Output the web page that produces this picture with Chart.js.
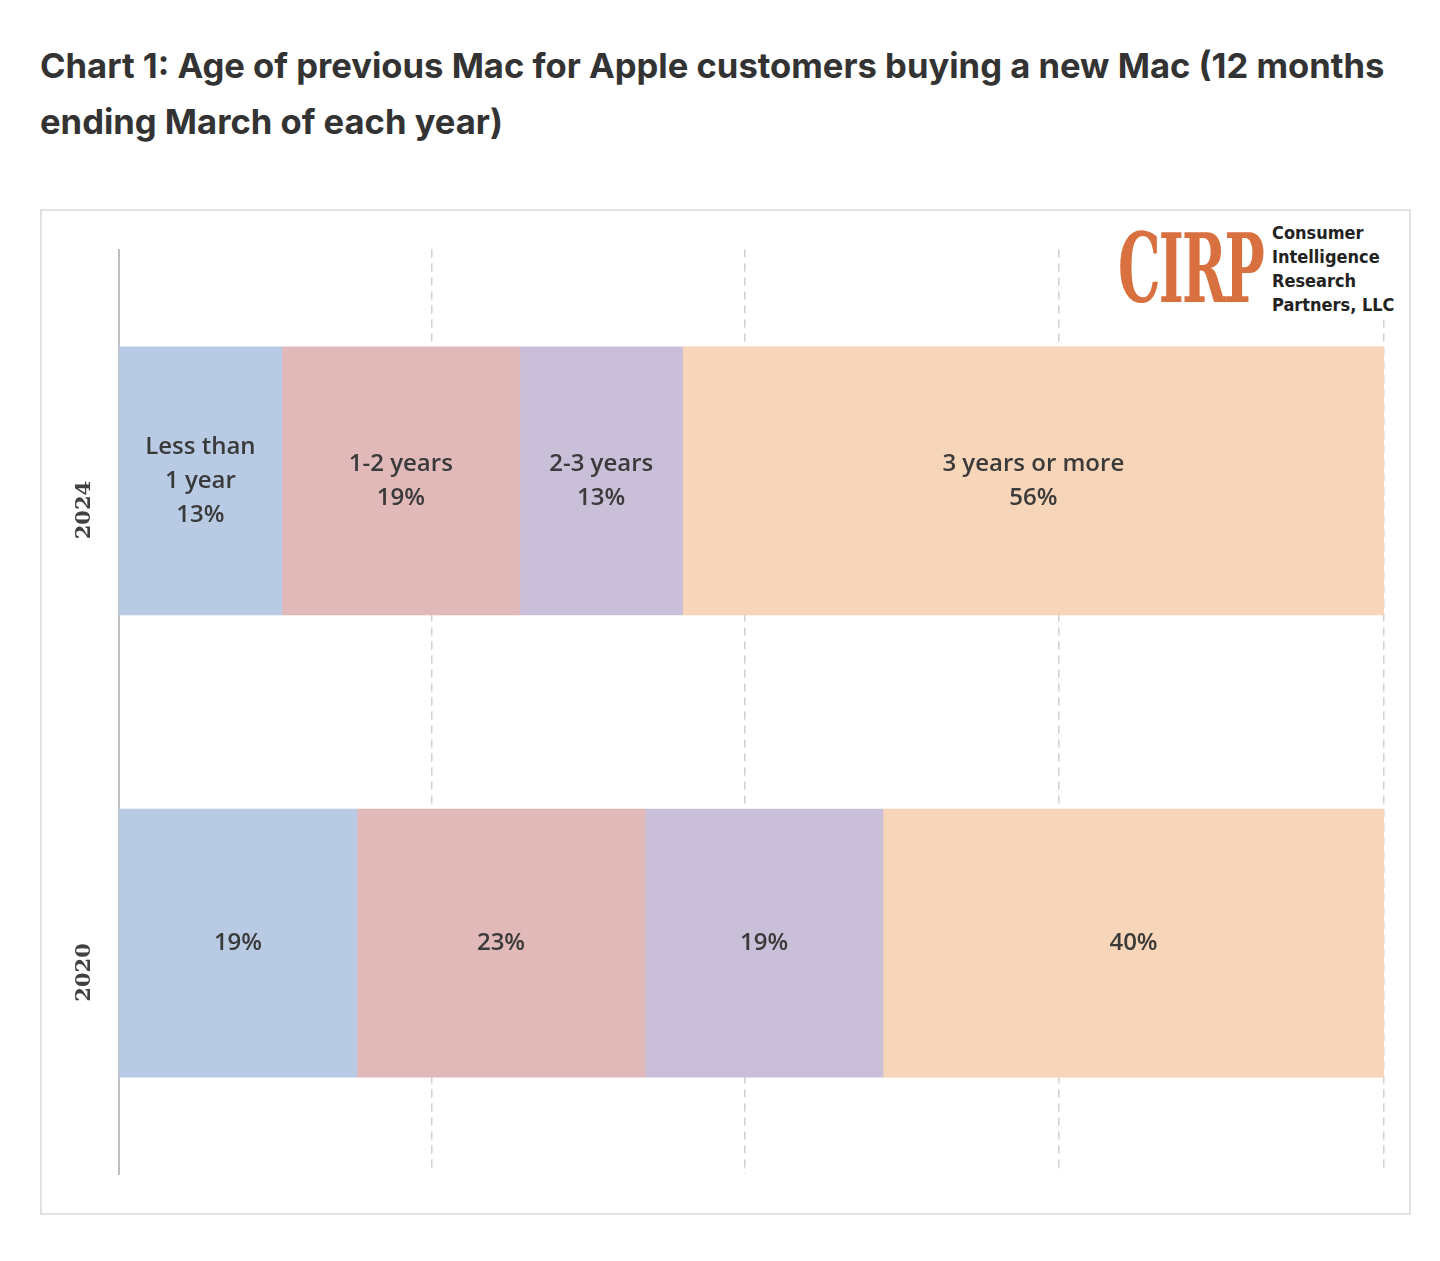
<!DOCTYPE html>
<html>
<head>
<meta charset="utf-8">
<script src="https://cdn.jsdelivr.net/npm/chart.js@4/dist/chart.umd.min.js"></script>
<style>
  body { margin: 0; background: #fff; width: 1440px; height: 1261px; position: relative; font-family: Inter, "Open Sans", sans-serif; }
  h1 { position: absolute; left: 40px; top: 37px; margin: 0; width: 1395px; font-size: 34.6px; line-height: 56px; font-weight: 700; color: #333; }
  #box { position: absolute; left: 40px; top: 209px; width: 1367px; height: 1002px; border: 2px solid #e2e2e2; }
  #logo { position: absolute; left: 1072px; top: 8px; display: flex; align-items: center; background: #fff; padding: 2px 4px; white-space: nowrap; }
  #cirpWrap { width: 148px; height: 92px; overflow: visible; }
  #cirp { font-family: "DejaVu Serif Condensed", "DejaVu Serif", serif; font-weight: 700; font-size: 96px; color: #d9703f; transform: scaleX(0.62); transform-origin: left; letter-spacing: -3px; line-height: 92px; }
  #cirpText { font-family: "DejaVu Sans Condensed", sans-serif; font-weight: 700; font-size: 18px; line-height: 24px; color: #222; margin-left: 6px; }
</style>
</head>
<body>
<h1>Chart 1: Age of previous Mac for Apple customers buying a new Mac (12 months ending March of each year)</h1>
<div id="box">
  <canvas id="chart" width="1367" height="1002"></canvas>
  <div id="logo"><div id="cirpWrap"><div id="cirp">CIRP</div></div><div id="cirpText">Consumer<br>Intelligence<br>Research<br>Partners, LLC</div></div>
</div>
<script>
// Survey years (top to bottom)
const years = ['2024', '2020'];
// Age buckets
const buckets = ['Less than 1 year', '1-2 years', '2-3 years', '3 years or more'];
// Share of buyers per bucket, per year (same order as years)
const lessThan1 = [13, 19];
const oneToTwo = [19, 23];
const twoToThree = [13, 19];
const threePlus = [56, 40];
const bucketColors = ['#b9cbe4', '#e2b9b9', '#cabfd8', '#f7d5b8'];
// Labels written inside the 2024 bar
const topLabels = [['Less than', '1 year'], ['1-2 years'], ['2-3 years'], ['3 years or more']];

const canvas = document.getElementById('chart');
const ctx = canvas.getContext('2d');

// Draw the text inside each bar segment
const barLabels = {
    id: 'barLabels',
    afterDatasetsDraw(chart) {
        const c = chart.ctx;
        c.save();
        c.fillStyle = '#3a3a3a';
        c.font = '600 24px "Open Sans", sans-serif';
        c.textAlign = 'center';
        c.textBaseline = 'middle';
        chart.data.datasets.forEach((ds, i) => {
            chart.getDatasetMeta(i).data.forEach((bar, j) => {
                const lines = j === 0 ? [...topLabels[i], ds.data[j] + '%'] : [ds.data[j] + '%'];
                const cx = (bar.x + bar.base) / 2;
                const lh = 34;
                const y0 = bar.y - (lines.length - 1) * lh / 2;
                lines.forEach((t, k) => c.fillText(t, cx, y0 + k * lh));
            });
        });
        c.restore();
    }
};

const chart = new Chart(ctx, {
    type: 'bar',
    plugins: [barLabels],
    data: {
        labels: years,
        datasets: [lessThan1, oneToTwo, twoToThree, threePlus].map((d, i) => ({
            label: buckets[i],
            data: d,
            backgroundColor: bucketColors[i],
            barThickness: 268,
        })),
    },
    options: {
        indexAxis: 'y',
        responsive: false,
        animation: false,
        layout: { padding: { top: 15, right: 25, bottom: 22, left: 0 } },
        plugins: { legend: { display: false }, tooltip: { enabled: false } },
        scales: {
            x: {
                stacked: true,
                min: 0,
                max: 101,
                ticks: { display: false, stepSize: 25 },
                border: { display: false, dash: [8, 6] },
                grid: {
                    drawTicks: false,
                    color: (c) => (c.tick && c.tick.value === 100) ? 'rgba(0,0,0,0)' : '#d0d0d0',
                    lineWidth: (c) => (c.tick && c.tick.value === 0) ? 0 : 1.5,
                },
            },
            y: {
                stacked: true,
                grid: { display: false },
                border: { display: true, color: '#bfbfbf', width: 2 },
                ticks: {
                    minRotation: 90, maxRotation: 90, padding: 26,
                    color: '#404040',
                    font: { family: '"DejaVu Serif", serif', size: 21, weight: 'bold' },
                },
                afterFit: (scale) => { scale.width = 77; },
            },
        },
    },
});
</script>
</body>
</html>
